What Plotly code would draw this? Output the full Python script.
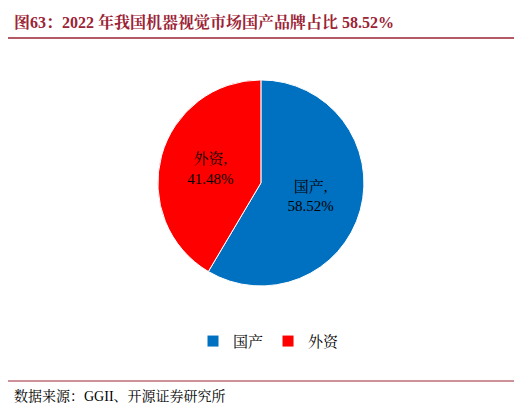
import plotly.graph_objects as go

labels = ["国产", "外资"]
values = [58.52, 41.48]
colors = ["#0070C0", "#FF0000"]
title = "图63：2022 年我国机器视觉市场国产品牌占比 58.52%"
source = "数据来源：GGII、开源证券研究所"

font = "Liberation Serif, Noto Serif CJK SC, Noto Sans CJK SC, serif"
fig = go.Figure(go.Pie(
    labels=labels, values=values, sort=False, direction="clockwise", rotation=0,
    marker=dict(colors=colors, line=dict(color="white", width=1)),
    texttemplate="%{label},<br>%{value:.2f}%", textposition="inside",
    insidetextorientation="horizontal",
    textfont=dict(family=font, size=15, color="black"),
    domain=dict(x=[0.287, 0.682], y=[0.312, 0.822]),
))
fig.update_layout(
    width=522, height=404, margin=dict(l=0, r=0, t=0, b=0),
    paper_bgcolor="white", plot_bgcolor="white",
    showlegend=True,
    legend=dict(orientation="h", x=0.5, xanchor="center", y=0.175, yanchor="middle",
                font=dict(family=font, size=15, color="black"), itemwidth=30),
    annotations=[
        dict(text="<b>" + title + "</b>", x=0.008, y=1 - 14/404, xref="paper", yref="paper",
             xanchor="left", yanchor="middle", showarrow=False,
             font=dict(family=font, size=16, color="#9B2335")),
        dict(text=source, x=0.008, y=1 - 388/404, xref="paper", yref="paper",
             xanchor="left", yanchor="middle", showarrow=False,
             font=dict(family=font, size=14, color="black")),
    ],
    shapes=[
        dict(type="line", xref="paper", yref="paper", x0=0, x1=1, y0=1-30/404, y1=1-30/404,
             line=dict(color="#9B2335", width=1.5)),
        dict(type="line", xref="paper", yref="paper", x0=0, x1=1, y0=1-373/404, y1=1-373/404,
             line=dict(color="#9B2335", width=1)),
    ],
)
fig.write_html("out.html")
